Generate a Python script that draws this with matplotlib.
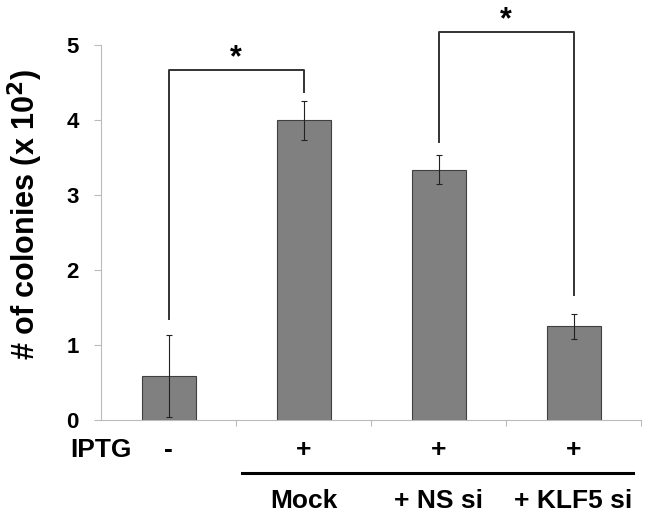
import matplotlib
matplotlib.use("Agg")
import matplotlib.pyplot as plt

plt.rcParams["font.family"] = ["Liberation Sans", "DejaVu Sans"]

# data
iptg = ["-", "+", "+", "+"]
groups = ["", "Mock", "+ NS si", "+ KLF5 si"]
colonies = [0.59, 4.0, 3.34, 1.25]
errors = [0.55, 0.26, 0.19, 0.165]
# significance brackets: (left bar, right bar, top, left foot, right foot)
brackets = [(0, 1, 4.67, 1.35, 4.38), (2, 3, 5.17, 3.71, 1.67)]

fig = plt.figure(figsize=(6.52, 5.18), dpi=100)
W, H = 652, 518
ax = fig.add_axes([101 / W, 1 - 420 / H, 540 / W, (420 - 45) / H])

x = list(range(len(colonies)))
ax.bar(x, colonies, width=0.4, color="#808080", edgecolor="#404040", linewidth=0.8, zorder=2)
ax.errorbar(x, colonies, yerr=errors, fmt="none", ecolor="#222222",
            elinewidth=0.8, capsize=2.5, capthick=0.8, zorder=3)

ax.set_xlim(-0.5, 3.5)
ax.set_ylim(0, 5)
ax.set_yticks([0, 1, 2, 3, 4, 5])
ax.set_xticks([0.5, 1.5, 2.5, 3.5])
ax.set_xticklabels([])
for s in ["top", "right"]:
    ax.spines[s].set_visible(False)
for s in ["left", "bottom"]:
    ax.spines[s].set_color("#bbbbbb")
    ax.spines[s].set_linewidth(0.8)
ax.tick_params(axis="y", colors="#bbbbbb", length=5, width=0.8, pad=11,
               labelcolor="black", labelsize=16)
ax.tick_params(axis="x", colors="#bbbbbb", length=4, width=0.8)
for lab in ax.get_yticklabels():
    lab.set_fontweight("bold")

ax.set_ylabel("# of colonies (x 10$^{\\mathbf{2}}$)", fontsize=22, fontweight="bold")
ax.yaxis.set_label_coords(-0.104, 0.547)

# brackets and stars
for l, r, top, lf, rf in brackets:
    ax.plot([l, l, r, r], [lf, top, top, rf], color="#333333", lw=1.4,
            clip_on=False, zorder=4)
    ax.text((l + r) / 2, top - 0.04, "*", ha="center", va="bottom",
            fontsize=22, fontweight="bold", clip_on=False)

# IPTG row and group labels under the axis
ax.text(-0.5, -0.40, "IPTG", ha="center", va="center", fontsize=19, fontweight="bold")
for xi, t in zip(x, iptg):
    ax.text(xi, -0.40, t, ha="center", va="center", fontsize=19, fontweight="bold")
ax.plot([0.544, 3.44], [-0.71, -0.71], color="black", lw=2.2, clip_on=False)
for xi, t in zip(x, groups):
    if t:
        ax.text(xi, -1.08, t, ha="center", va="center", fontsize=19, fontweight="bold")

fig.savefig("out.png", dpi=100)
